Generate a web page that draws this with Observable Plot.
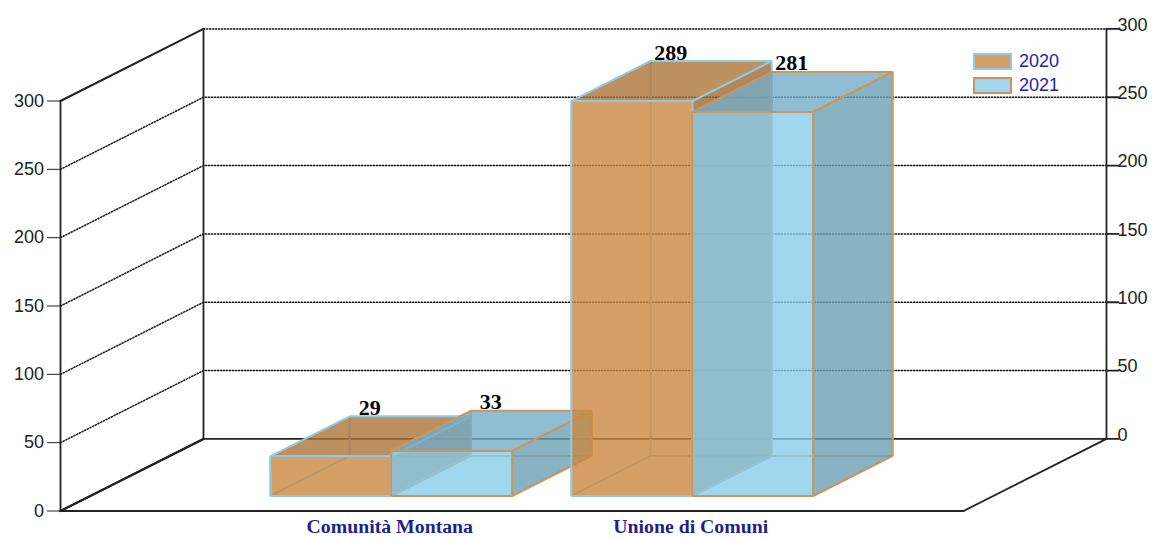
<!DOCTYPE html>
<html>
<head>
<meta charset="utf-8">
<script src="https://cdn.jsdelivr.net/npm/d3@7"></script>
<script src="https://cdn.jsdelivr.net/npm/@observablehq/plot@0.6"></script>
<style>
html,body{margin:0;padding:0;background:#fff;width:1152px;height:538px;overflow:hidden}
#chart{position:relative;width:1152px;height:538px}
#chart svg{display:block;position:absolute;left:0;top:0}
.lg{position:absolute;left:1019px;font:18px "Liberation Sans",Arial,sans-serif;color:#2323a8;line-height:20px}
.sw{position:absolute;left:973px;width:35px;height:13px;border:2px solid}
</style>
</head>
<body>
<div id="chart"></div>
<script>
// data
const categories = ["Comunità Montana", "Unione di Comuni"];
const seriesNames = ["2020", "2021"];
const values2020 = [29, 289];
const values2021 = [33, 281];
const yTicks = [0, 50, 100, 150, 200, 250, 300];

// 3D look
const shearX = 0.475, shearV = 52.75;      // what one full depth adds in data units
const depth0 = 0.208, depth1 = 0.764;      // bar's extent in depth
const barW = 0.402, xMax = 3;
const styles = [
  {front:"#CA8842", top:"#AC7438", side:"#9C6A33", edge:"#8FCBE6"},
  {front:"#88CCEA", top:"#74ADC7", side:"#69A0B4", edge:"#CC9560"}
];
const P = (x, v, d) => ({x: x + shearX * d, y: v + shearV * d});

function poly(points, st, fill) {
  return Plot.line(points, {
    x: "x", y: "y",
    fill: fill || "none", fillOpacity: 0.8,
    stroke: st.edge, strokeWidth: 2, strokeLinejoin: "miter", strokeLinecap: "butt"
  });
}
function bar(x0, v, st) {
  const x1 = x0 + barW;
  const c = (x, h, d) => P(x, h, d);
  return [
    // hidden edges
    poly([c(x0,0,depth0), c(x0,0,depth1), c(x1,0,depth1)], st),
    poly([c(x0,0,depth1), c(x0,v,depth1)], st),
    // side, top, front
    poly([c(x1,0,depth0), c(x1,0,depth1), c(x1,v,depth1), c(x1,v,depth0), c(x1,0,depth0)], st, st.side),
    poly([c(x0,v,depth0), c(x0,v,depth1), c(x1,v,depth1), c(x1,v,depth0), c(x0,v,depth0)], st, st.top),
    poly([c(x0,0,depth0), c(x0,v,depth0), c(x1,v,depth0), c(x1,0,depth0), c(x0,0,depth0)], st, st.front)
  ];
}

const gridInner = yTicks.filter(v => v > 0 && v < 300);
const dotted = {stroke: "#111", strokeWidth: 1.5, strokeDasharray: "1.2,1.8"};
const solid = {stroke: "#222", strokeWidth: 1.8};
const line = (pts, o) => Plot.line(pts, {x: "x", y: "y", ...o});

const marks = [
  // grid
  ...gridInner.map(v => line([P(0,v,0), P(0,v,1), P(xMax,v,1)], dotted)),
  line([P(0,300,1), P(xMax,300,1)], dotted),
  line([P(0,300,0), P(0,300,1)], {...solid, strokeWidth: 2}),
  // walls and floor
  line([P(0,0,0), P(0,300,0)], solid),
  line([P(0,0,1), P(0,300,1)], solid),
  line([P(xMax,0,1), P(xMax,300,1)], solid),
  line([P(0,0,0), P(0,0,1), P(xMax,0,1), P(xMax,0,0)], {...solid}),
  line([P(0,0,0), P(0,0,1)], {...solid, strokeWidth: 2.2}),
  line([P(0,0,0), P(xMax,0,0)], {...solid, strokeWidth: 2}),
  // bars
  ...categories.flatMap((_, i) => [
    ...bar(i + 1 - barW, values2020[i], styles[0]),
    ...bar(i + 1, values2021[i], styles[1])
  ]),
  // axes
  Plot.axisY({anchor: "left", ticks: yTicks, tickSize: 13, tickPadding: 3.5, label: null,
    fontSize: 18, fontFamily: "Liberation Sans, Arial, sans-serif", stroke: "#222", fill: "#222"}),
  ...yTicks.map(v => {
    const p = P(xMax, v, 1);
    return line([p, {x: p.x + 0.04, y: p.y}], solid);
  }),
  Plot.text(yTicks, {
    x: () => P(xMax, 0, 1).x, y: v => P(xMax, v, 1).y, text: v => String(v),
    dx: 11, dy: -4, textAnchor: "start", fontSize: 18, fill: "#222",
    fontFamily: "Liberation Sans, Arial, sans-serif"
  }),
  // category labels
  Plot.text(categories, {
    x: (_, i) => i + 1 + shearX * depth0, y: () => 0, text: d => d,
    dx: -1.5, dy: 15.5, fontSize: 19.8, fontWeight: "bold", fill: "#1F1F8F",
    fontFamily: "Liberation Serif, serif"
  }),
  // value labels
  ...[values2020, values2021].map((vals, s) => Plot.text(vals, {
    x: (_, i) => P(i + 1 - barW + s * barW, 0, depth1).x,
    y: v => P(0, v, depth1).y,
    text: v => String(v),
    dx: 20, dy: -8.5, fontSize: 22, fontWeight: "bold", fill: "#000",
    fontFamily: "Liberation Serif, serif"
  }))
];

const plot = Plot.plot({
  width: 1152, height: 538,
  marginLeft: 60, marginRight: 189, marginTop: 100.5, marginBottom: 27.5,
  x: {domain: [0, xMax], axis: null},
  y: {domain: [0, 300], axis: null},
  style: {background: "#fff", overflow: "visible"},
  marks
});
const root = document.getElementById("chart");
root.appendChild(plot);
// legend
seriesNames.forEach((name, i) => {
  const top = 53 + i * 24;
  const sw = document.createElement("div");
  sw.className = "sw";
  sw.style.top = top + "px";
  sw.style.background = ["#D5A068", "#A0D6EE"][i];
  sw.style.borderColor = styles[i].edge;
  root.appendChild(sw);
  const t = document.createElement("div");
  t.className = "lg";
  t.style.top = (top - 2) + "px";
  t.textContent = name;
  root.appendChild(t);
});
</script>
</body>
</html>
